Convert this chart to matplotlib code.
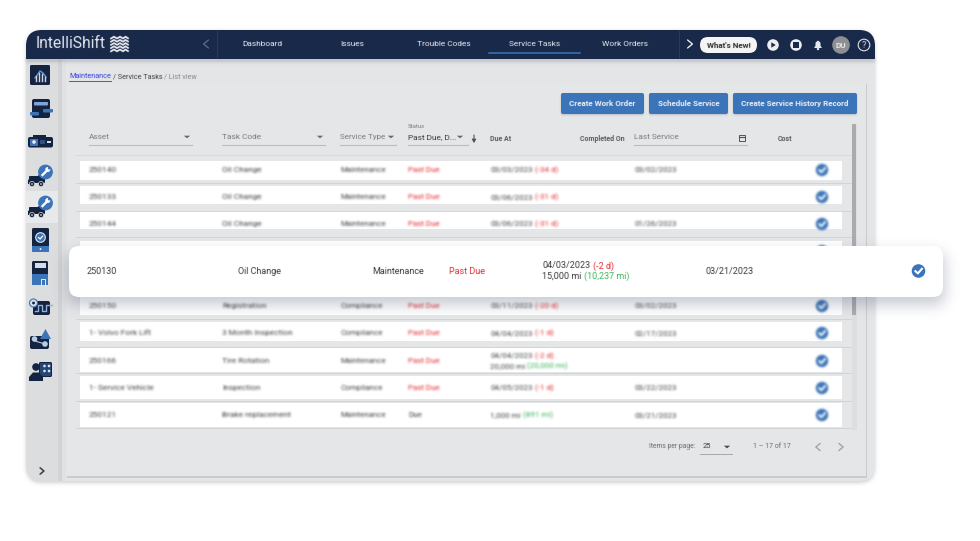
import numpy as np
import matplotlib
matplotlib.use("Agg")
import matplotlib.pyplot as plt
from matplotlib.patches import Circle, FancyBboxPatch, Polygon, Rectangle

plt.rcParams["font.family"] = ["Roboto", "DejaVu Sans"]

# table content
assets = ["250140", "250133", "250144", "250150", "1- Volvo Fork Lift", "250166", "1- Service Vehicle", "250121"]
task_codes = ["Oil Change", "Oil Change", "Oil Change", "Registration", "3 Month Inspection", "Tire Rotation", "Inspection", "Brake replacement"]
service_types = ["Maintenance", "Maintenance", "Maintenance", "Compliance", "Compliance", "Maintenance", "Compliance", "Maintenance"]
statuses = ["Past Due", "Past Due", "Past Due", "Past Due", "Past Due", "Past Due", "Past Due", "Due"]
due_dates = ["03/03/2023", "03/06/2023", "03/06/2023", "03/11/2023", "04/04/2023", "04/04/2023", "04/05/2023", ""]
due_days = ["(-34 d)", "(-31 d)", "(-31 d)", "(-20 d)", "(-1 d)", "(-2 d)", "(-1 d)", ""]
due_miles = ["", "", "", "", "", "20,000 mi", "", "1,000 mi"]
due_left = ["", "", "", "", "", "(20,000 mi)", "", "(891 mi)"]
last_service = ["03/02/2023", "", "01/26/2023", "03/02/2023", "02/17/2023", "", "03/22/2023", "03/21/2023"]

nav_labels = ["Dashboard", "Issues", "Trouble Codes", "Service Tasks", "Work Orders"]
button_labels = ["Create Work Order", "Schedule Service", "Create Service History Record"]
card_cells = ["250130", "Oil Change", "Maintenance", "Past Due", "03/21/2023"]

# layout, in pixels of the 980x541 picture
NAVY = "#19294a"
ICON = "#14233f"
BLUE = "#3b74b8"
RED = "#e5262b"
GREEN = "#35b558"
DARK = "#333538"
GREY = "#77797c"
ROWTXT = "#3f4144"
nav_x = [262, 352, 444, 535, 625]
button_x = [(561, 644), (649, 728), (733, 857)]
row_top = [161, 186, 211, 295, 322, 348, 376, 403]
row_bottom = [180, 204, 229, 315, 341, 372, 399, 427]
row_text = [170, 197, 224, 306, 333, 361, 388, 415]
row_rule = [183, 211, 237, 319, 347, 373, 401, 428]
SOFT = 0.4
ROWBLUR = 1.1


def blur(sigma):
    """agg_filter doing a real gaussian blur, sigma in pixels."""
    radius = int(3 * sigma) + 1
    kernel = np.exp(-0.5 * (np.arange(-radius, radius + 1) / sigma) ** 2)
    kernel /= kernel.sum()

    def smooth(arr):
        for axis in (0, 1):
            arr = np.apply_along_axis(np.convolve, axis, arr, kernel, mode="same")
        return arr

    def process(img, dpi):
        pad = radius + 1
        img = np.pad(img, ((pad, pad), (pad, pad), (0, 0)))
        alpha = smooth(img[:, :, 3])
        out = np.zeros_like(img)
        for c in range(3):
            out[:, :, c] = smooth(img[:, :, c] * img[:, :, 3]) / np.maximum(alpha, 1e-4)
        out[:, :, 3] = alpha
        return np.clip(out, 0, 1), -pad, -pad

    return process


fig = plt.figure(figsize=(9.8, 5.41), dpi=100, facecolor="white")
ax = fig.add_axes([0, 0, 1, 1])
ax.set_xlim(0, 980)
ax.set_ylim(541, 0)
ax.axis("off")


def px(size):
    return size * 0.72


def label(x, y, s, size=8, color=DARK, ha="left", weight="normal", sigma=SOFT, z=5):
    t = ax.text(x, y, s, fontsize=px(size), color=color, ha=ha, va="center", weight=weight, zorder=z)
    t.set_agg_filter(blur(sigma))
    return t


def after(t, s, size, color, sigma=SOFT, z=5, gap=3):
    # second coloured run that follows the end of the first one
    bb = t.get_window_extent(fig.canvas.get_renderer()).transformed(ax.transData.inverted())
    x, y = t.get_position()
    return label(bb.x1 + gap, y, s, size=size, color=color, sigma=sigma, z=z)


def box(x0, y0, x1, y1, color, round_px=0, z=1, **kw):
    if round_px:
        p = FancyBboxPatch((x0, y0), x1 - x0, y1 - y0, boxstyle=f"round,pad=0,rounding_size={round_px}",
                           fc=color, ec="none", zorder=z, **kw)
    else:
        p = Rectangle((x0, y0), x1 - x0, y1 - y0, fc=color, ec="none", zorder=z, **kw)
    ax.add_patch(p)
    return p


def disc(x, y, r, color, z=4):
    ax.add_patch(Circle((x, y), r, fc=color, ec="none", zorder=z))


def tri(x, y, color="#66686b", w=3.2, h=2.6, z=5):
    ax.add_patch(Polygon([(x - w, y - h / 2), (x + w, y - h / 2), (x, y + h / 2)], fc=color, ec="none", zorder=z))


def chevron(x, y, direction, color, size=4, lw=1.0, z=6):
    ax.plot([x - direction * size * 0.6, x + direction * size * 0.6, x - direction * size * 0.6],
            [y - size, y, y + size], color=color, lw=lw, zorder=z, solid_capstyle="round")


def check(x, y, r, z=5, sigma=None):
    c = Circle((x, y), r, fc=BLUE, ec="none", zorder=z)
    ax.add_patch(c)
    ln = ax.plot([x - r * 0.45, x - r * 0.1, x + r * 0.5], [y + r * 0.02, y + r * 0.36, y - r * 0.32],
                 color="white", lw=r * 0.22, zorder=z + 0.1)[0]
    if sigma:
        c.set_agg_filter(blur(sigma))
        ln.set_agg_filter(blur(sigma))


def truck(y):
    # delivery truck with the blue wrench bubble, y is the wheel line
    box(29, y - 8, 41, y - 1, ICON, 1, z=3)
    ax.add_patch(Polygon([(28, y), (28, y - 4), (33, y - 7), (33, y)], fc=ICON, zorder=3))
    box(38, y - 9, 45, y - 1, ICON, 1, z=3)
    for wx in (32, 41):
        ax.add_patch(Circle((wx, y), 2.6, fc=ICON, ec="#dcddde", lw=0.5, zorder=4))
        disc(wx, y, 0.9, "#c9ccd2", z=4.5)
    disc(45.5, y - 12, 7.4, BLUE)
    ax.plot([42.5, 47], [y - 9, y - 13.5], color="white", lw=1.7, zorder=5)
    disc(47.8, y - 14.5, 2.5, "white", z=5)
    disc(49.3, y - 16, 1.5, BLUE, z=5.1)


# window
shadow = box(26, 31, 875, 483, "#9a9ca0", 16, z=0.5, alpha=0.45)
shadow.set_agg_filter(blur(2.0))
window = box(26, 30, 875, 481, "#e4e5e7", 16, z=1)

# sidebar
for x0, x1, col in [(26, 58, "#dcddde"), (58, 62, "#d2d3d5"), (62, 66, "#e0e1e3")]:
    box(x0, 30, x1, 481, col, z=1.1).set_clip_path(window)
box(26, 191, 58, 223, "#e8e9ea", z=1.2)

# header bar with its soft drop shadow
hs = box(26, 58, 875, 62, "#9a9ca0", z=1.4, alpha=0.5)
hs.set_clip_path(window)
hs.set_agg_filter(blur(1.5))
box(26, 30, 875, 59, NAVY, z=2).set_clip_path(window)

# content panel
box(67, 84, 867, 478, "#c9cacc", z=1.5)
box(67, 84, 866, 476, "#e5e6e8", z=1.6)

# logo
label(36, 44, "IntelliShift", size=15.6, color="#e8ebf1", z=3)
for dy in (-6.4, -3.2, 0, 3.2, 6.4):
    ln = ax.plot(np.array([111, 114, 117, 120, 123, 125.5, 128]), 44 + dy + np.array([0.9, -0.9, 0.9, -0.9, 0.9, -0.9, 0.7]),
                 color="#eef0f5", lw=1.25, zorder=3)[0]
    ln.set_agg_filter(blur(SOFT))

chevron(206, 44, -1, "#59677f", size=4)
ax.plot([217, 217], [31, 58], color="#2b3a58", lw=0.8, zorder=3)
ax.plot([678.5, 678.5], [31, 58], color="#2b3a58", lw=0.8, zorder=3)
chevron(690, 44, 1, "#e8eaee", size=4)
for x, s in zip(nav_x, nav_labels):
    label(x, 44, s, size=8.3, color="#eef0f4", ha="center", z=3)
ax.plot([489, 580], [53, 53], color=BLUE, lw=1.1, zorder=3)

box(700, 37, 757, 53, "#f4f4f4", 8, z=3)
label(728.5, 45, "What's New!", size=8, color="#2a2c30", ha="center", weight="bold", z=4)
disc(773, 45, 5.8, "#eceef1", z=3)
ax.add_patch(Polygon([(771.3, 42.3), (771.3, 47.7), (775.7, 45)], fc=NAVY, zorder=4))
disc(796, 45, 5.8, "#eceef1", z=3)
box(793.4, 42.4, 798.6, 47.6, NAVY, z=4)
ax.add_patch(Polygon([(814, 48), (815.4, 46), (815.6, 42.5), (818, 40.5), (820.4, 42.5), (820.6, 46), (822, 48)],
                     fc="#e6e8ec", zorder=3))
disc(818, 49, 1.2, "#e6e8ec", z=3)
disc(841, 45, 8.8, "#8e8f92", z=3)
label(841, 45, "DU", size=8, color="#eeeeee", ha="center", weight="bold", z=4)
ax.add_patch(Circle((864, 45), 5.8, fc="none", ec="#dfe2e8", lw=0.8, zorder=3))
label(864, 45, "?", size=9, color="#dfe2e8", ha="center", z=4)

# sidebar icons, only coarse glyphs
box(30, 65, 50, 85, ICON, 1.5, z=3)
ax.plot([35, 38, 40, 43, 46], [78, 74, 71, 73, 77], color="#5b8fd0", lw=1.1, zorder=4)
for x, top in zip((36, 39, 42, 45), (76, 73, 74, 77)):
    ax.plot([x, x], [81, top], color="#cfd8e8", lw=1.0, zorder=4)

box(32, 99, 50, 118, ICON, 2, z=3)
box(34, 102, 48, 105.5, "#7ea4d4", 1, z=4)
box(30, 112, 39, 115.5, BLUE, 1, z=4)
box(43, 109, 53, 112.5, BLUE, 1, z=4)

box(28, 137, 53, 147.5, ICON, 2, z=3)
box(33, 134.5, 46, 136.5, ICON, z=3)
box(30, 138.5, 38, 146, BLUE, z=4)
disc(34, 142, 1.8, "#e8edf5", z=5)
box(47, 141, 51, 143, "#d8dce4", z=4)
box(40, 140, 45, 144, "#35507e", z=4)

truck(184)
truck(215)

box(32, 228, 49, 252, ICON, 1.5, z=3)
box(32, 246, 49, 252, BLUE, z=4)
disc(40.5, 249, 0.9, "white", z=5)
disc(40.5, 237.5, 5.4, "#d9dfe8", z=4)
check(40.5, 237.5, 4.2, z=4.5)

box(32, 261, 48, 285, ICON, 1.5, z=3)
box(32, 274, 48, 285, BLUE, z=4)
box(34.5, 263, 45.5, 268, "#d8dce4", z=4)
ax.plot([41, 41, 45, 45], [285, 279, 279, 285], color="#e8edf5", lw=0.7, zorder=5)

box(33, 301, 50, 315, ICON, 2, z=3)
ax.plot([35, 38, 38, 42, 42, 46, 46, 52], [311, 311, 305, 305, 311, 311, 305, 305], color="#8fb0dc", lw=1.0, zorder=4)
ax.add_patch(Circle((33.5, 303), 4, fc="#dcddde", ec=BLUE, lw=0.8, zorder=4))
disc(33.5, 303, 1.4, ICON, z=5)

box(30, 336, 49, 349, ICON, 2, z=3)
ax.add_patch(Polygon([(40, 339), (51, 339), (45.5, 329)], fc=BLUE, zorder=4))
disc(34.5, 339, 2.8, "#b8cce6", z=5)
disc(45, 344, 2.8, "#b8cce6", z=5)
ax.plot([35, 45], [341, 344], color="#b8cce6", lw=0.8, zorder=4)

box(39, 362, 52, 377, ICON, 1.5, z=3)
ax.add_patch(Rectangle((40, 363), 11, 13, fc=BLUE, ec="none", alpha=0.45, zorder=3.5))
disc(36, 367, 3.8, ICON)
ax.add_patch(Polygon([(29, 381), (29, 377), (33, 372.5), (39, 372.5), (43, 377), (43, 381)], fc=ICON, zorder=4))
for x, y in [(44.5, 366), (49, 366), (49, 371), (44.5, 371)]:
    disc(x, y, 1.3, "#dfe5ef", z=5)
chevron(42, 471, 1, "#3b3d40", size=3.2, lw=1.1)

# breadcrumb
t = label(69, 77, "Maintenance", size=7.3, color="#2f3de0")
ax.plot([69, 111], [81, 81], color="#2f3de0", lw=0.6, zorder=5)
t = after(t, "/ Service Tasks", 7.3, "#3d3f43", gap=2)
after(t, "/ List view", 7.3, "#85878a", gap=2)

# action buttons
for (x0, x1), s in zip(button_x, button_labels):
    b = box(x0, 94, x1, 115, "#9da2a8", 2, z=2, alpha=0.6)
    b.set_agg_filter(blur(1.0))
    box(x0, 93, x1, 114, BLUE, 2, z=3)
    label((x0 + x1) / 2, 103.5, s, size=8, color="#eef2f8", ha="center", weight="bold")

# filter row
label(89, 137, "Asset", size=8.3, color=GREY)
label(222, 137, "Task Code", size=8.3, color=GREY)
label(340, 137, "Service Type", size=8.0, color=GREY)
label(408, 126, "Status", size=6, color=GREY)
label(408, 137.5, "Past Due, D...", size=8.3, color=DARK)
for x0, x1, xt in [(89, 192, 187), (222, 325, 320), (340, 396, 391), (408, 468, 460)]:
    ax.plot([x0, x1], [145, 145], color="#bcbdbf", lw=0.8, zorder=4)
    tri(xt, 137)
ax.annotate("", xy=(474, 143), xytext=(474, 135), zorder=5,
            arrowprops=dict(arrowstyle="-|>,head_width=0.12,head_length=0.2", color="#505255", lw=0.8, shrinkA=0, shrinkB=0))
label(490, 139, "Due At", size=7, color="#56585b", weight="bold")
label(580, 139, "Completed On", size=7, color="#56585b", weight="bold")
label(634, 137, "Last Service", size=8.3, color=GREY)
ax.plot([634, 747], [145, 145], color="#bcbdbf", lw=0.8, zorder=4)
ax.add_patch(Rectangle((739, 135), 6, 6, fc="none", ec="#505255", lw=0.7, zorder=5))
ax.plot([739, 745], [136.5, 136.5], color="#505255", lw=0.8, zorder=5)
label(778, 139, "Cost", size=7, color="#56585b", weight="bold")
ax.plot([76, 851], [155, 155], color="#d9dadc", lw=0.8, zorder=2)

# scrollbar
box(852, 124, 857, 430, "#dddee0", z=2)
box(852, 124, 855.5, 315, "#a9abae", z=2.1)

# blurred rows
box(80, 241, 842, 262, "white", z=2)
check(822, 251, 6, sigma=ROWBLUR)
for i, y in enumerate(row_text):
    box(80, row_top[i], 842, row_bottom[i], "white", z=2)
    ax.plot([76, 851], [row_rule[i], row_rule[i]], color="#cfd0d3", lw=0.6, zorder=2.1)
    label(89, y, assets[i], size=8.3, color=ROWTXT, sigma=ROWBLUR)
    label(222, y, task_codes[i], size=8.3, color=ROWTXT, sigma=ROWBLUR)
    label(340, y, service_types[i], size=8, color=ROWTXT, sigma=ROWBLUR)
    label(408, y, statuses[i], size=8, color=RED if statuses[i] == "Past Due" else ROWTXT, sigma=ROWBLUR)
    two_lines = due_dates[i] != "" and due_miles[i] != ""
    if due_dates[i]:
        t = label(490, y - 5 if two_lines else y, due_dates[i], size=8, color=ROWTXT, sigma=ROWBLUR)
        after(t, due_days[i], 8, RED, sigma=ROWBLUR, gap=2)
    if due_miles[i]:
        t = label(490, y + 5 if two_lines else y, due_miles[i], size=8, color=ROWTXT, sigma=ROWBLUR)
        after(t, due_left[i], 8, GREEN, sigma=ROWBLUR, gap=2)
    if last_service[i]:
        label(634, y, last_service[i], size=8, color=ROWTXT, sigma=ROWBLUR)
    check(822, y, 6.2, sigma=ROWBLUR)

# pagination
label(649, 447, "Items per page:", size=6.8, color="#66686b")
label(707, 447, "25", size=7.5, color=DARK, ha="center")
tri(727, 447, color="#44464a")
ax.plot([700, 732], [454, 454], color="#a6a8aa", lw=0.7, zorder=4)
label(753, 446.5, "1 – 17 of 17", size=7, color="#66686b")
chevron(818, 447, -1, "#a2a4a7", size=3.6)
chevron(841, 447, 1, "#a2a4a7", size=3.6)

# highlighted row card floating over everything
card_shadow = box(66, 252, 945, 305, "#3b4666", 10, z=8, alpha=0.28)
card_shadow.set_agg_filter(blur(7))
box(69, 246, 943, 297, "white", 10, z=9)
for x, s, col in zip([87, 238, 372, 449, 705], card_cells, [DARK, DARK, DARK, RED, DARK]):
    label(x, 271, s, size=9, color=col, z=10)
t = label(542, 266, "04/03/2023", size=9, color=DARK, z=10)
after(t, "(-2 d)", 9, RED, z=10, gap=2.5)
t = label(542, 276, "15,000 mi", size=9, color=DARK, z=10)
after(t, "(10,237 mi)", 9, GREEN, z=10, gap=2.5)
check(918.5, 271, 6.8, z=10)

fig.savefig("out.png", dpi=100)
